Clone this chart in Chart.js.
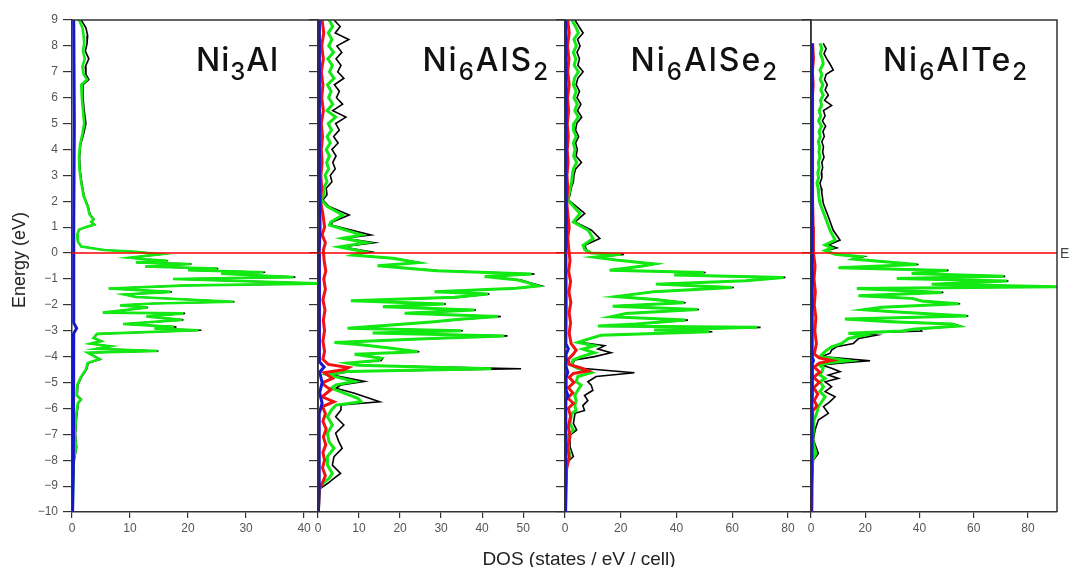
<!DOCTYPE html>
<html>
<head>
<meta charset="utf-8">
<title>DOS Ni3Al / Ni6AlX2</title>
<script src="https://cdn.jsdelivr.net/npm/chart.js@4.4.1/dist/chart.umd.min.js"></script>
<style>
  html, body { margin:0; padding:0; background:#fff; }
  body { position:relative; width:1070px; height:567px; overflow:hidden; font-family:"Liberation Sans", Arial, sans-serif; }
  canvas { position:absolute; top:0; }
  .name { position:absolute; top:44px; font-family:Inter, "Noto Sans", sans-serif; font-size:32px; font-weight:500; line-height:32px; color:#111; white-space:nowrap; letter-spacing:2px; }
  .name sub { font-size:24px; line-height:0; vertical-align:-9px; }
  .axis-title { position:absolute; color:#222; white-space:nowrap; line-height:1; }
</style>
</head>
<body>

<div class="name" style="right:791px; letter-spacing:1px">Ni<sub>3</sub>Al</div>
<div class="name" style="right:520px">Ni<sub>6</sub>AlS<sub>2</sub></div>
<div class="name" style="right:291px">Ni<sub>6</sub>AlSe<sub>2</sub></div>
<div class="name" style="right:41px">Ni<sub>6</sub>AlTe<sub>2</sub></div>

<div class="axis-title" style="left:19px; top:260px; font-size:18px; transform:translate(-50%,-50%) rotate(-90deg);">Energy (eV)</div>
<div class="axis-title" style="left:579px; top:549px; font-size:19px; transform:translateX(-50%);">DOS (states / eV / cell)</div>
<div class="axis-title" style="left:1060px; top:246px; font-size:14px; color:#444;">E<sub style="font-size:9px">F</sub></div>

<script>
// energy axis (shared by the four panels)
const energyTicks = [9, 8, 7, 6, 5, 4, 3, 2, 1, 0, -1, -2, -3, -4, -5, -6, -7, -8, -9, -10];
const fermiLevel = 0;

// DOS axis per panel
const dosMax   = [42.4, 60.2, 88.3, 90.7];
const dosTicks = [[0, 10, 20, 30, 40], [0, 10, 20, 30, 40, 50], [0, 20, 40, 60, 80], [0, 20, 40, 60, 80]];

// ---- Ni3Al ----
const eNi3Al = [
  9.0, 8.7, 8.4, 8.1, 7.8, 7.5, 7.2, 6.9, 6.7, 6.5,
  6.0, 5.5, 5.0, 4.6, 4.2, 3.7, 3.2, 2.7, 2.2, 1.8,
  1.5, 1.3, 1.2, 1.1, 1.0, 0.9, 0.7, 0.45, 0.25, 0.12,
  0.05, -0.05, -0.18, -0.24, -0.3, -0.36, -0.42, -0.52, -0.6, -0.66,
  -0.74, -0.8, -0.93, -1.0, -1.06, -1.18, -1.25, -1.37, -1.5, -1.6,
  -1.7, -1.88, -1.95, -2.02, -2.1, -2.3, -2.33, -2.45, -2.58, -2.74,
  -2.85, -2.92, -2.98, -3.12, -3.28, -3.4, -3.5, -3.6, -3.7, -3.78,
  -3.85, -4.1, -4.25, -4.5, -4.8, -5.1, -5.5, -5.65, -5.8, -6.3,
  -7.0, -7.5, -8.0, -9.0, -10
];
const niNi3Al = [
  1.2, 1.8, 2.0, 2.1, 1.9, 2.2, 1.8, 2.0, 2.6, 1.6,
  1.7, 1.9, 2.1, 1.8, 1.4, 1.2, 1.3, 1.6, 2.0, 2.7,
  3.0, 3.7, 3.3, 3.8, 2.3, 1.2, 0.9, 1.0, 1.6, 5.5,
  11, 15.2, 9.9, 12.5, 16.4, 11, 20.4, 12.6, 25, 20,
  33, 25.7, 38.2, 17.4, 25.7, 44, 20, 6.3, 17, 9,
  11, 27.8, 14, 8.3, 13, 5.3, 19.2, 12.8, 19, 8.8,
  17.6, 14.2, 21.8, 4.3, 3.7, 5.0, 3.2, 6.6, 4.2, 14.7,
  2.7, 4.7, 2.7, 2.4, 1.5, 0.9, 0.8, 1.5, 1.0, 0.7,
  0.5, 0.7, 0.3, 0.2, 0.1
];
const totNi3Al = [
  1.6, 2.4, 2.7, 2.6, 2.3, 2.9, 2.3, 2.4, 2.9, 1.9,
  1.9, 2.1, 2.4, 2.0, 1.5, 1.3, 1.4, 1.7, 2.1, 2.8,
  3.1, 3.8, 3.4, 3.9, 2.4, 1.2, 0.9, 1.0, 1.6, 5.5,
  11, 15.4, 10, 12.6, 16.5, 11.1, 20.6, 12.7, 25.2, 20.1,
  33.3, 25.8, 38.5, 17.5, 25.8, 44, 20, 6.4, 17.2, 9.1,
  11.1, 28, 14.1, 8.4, 13.1, 5.4, 19.5, 12.9, 19.2, 8.9,
  18, 14.3, 22.3, 4.4, 3.8, 5.1, 3.3, 6.7, 4.3, 14.9,
  2.8, 4.9, 2.8, 2.5, 1.6, 1.0, 0.9, 1.6, 1.1, 0.8,
  0.6, 0.8, 0.4, 0.2, 0.1
];
const eAlNi3Al = [9, 5, 1, 0, -1.5, -2.7, -2.9, -3.1, -5.5, -8, -10];
const alNi3Al  = [0.3, 0.4, 0.3, 0.3, 0.3, 0.3, 0.8, 0.3, 0.3, 0.2, 0.1];

// ---- Ni6AlS2 ----
const eNi6AlS2 = [
  9.0, 8.75, 8.5, 8.25, 8.0, 7.75, 7.5, 7.25, 7.0, 6.75,
  6.5, 6.25, 6.0, 5.75, 5.5, 5.25, 5.0, 4.75, 4.5, 4.25,
  4.0, 3.75, 3.5, 3.25, 3.0, 2.75, 2.5, 2.25, 2.05,
  1.8, 1.47, 1.2, 1.08, 0.7, 0.57, 0.4, 0.24, 0.05, -0.08,
  -0.2, -0.37, -0.49, -0.68, -0.81, -0.91, -1.04, -1.14, -1.27, -1.36,
  -1.49, -1.58, -1.71, -1.84, -1.97, -2.07, -2.2, -2.32, -2.45, -2.56,
  -2.66, -2.9, -3.0, -3.09, -3.2, -3.3, -3.45, -3.54, -3.67, -3.81,
  -3.91, -4.06, -4.15, -4.25, -4.33, -4.47, -4.57, -4.7, -4.83, -4.96,
  -5.09, -5.22, -5.41, -5.61, -5.74, -5.87, -6.06, -6.32, -6.64, -6.96,
  -7.29, -7.54, -7.86, -8.19, -8.51, -8.7, -8.9, -9.1, -10
];
const niNi6AlS2 = [
  2.7, 3.6, 2.5, 3.4, 2.6, 3.8, 2.4, 3.5, 2.8, 3.9,
  2.3, 3.2, 2.6, 3.6, 2.2, 4.3, 2.5, 3.3, 2.2, 3.0,
  2.0, 2.8, 2.1, 2.6, 1.7, 2.2, 1.3, 1.5, 0.8,
  2.3, 6.0, 3.1, 2.8, 10.5, 6.0, 11.7, 5.2, 11.3, 8.5,
  18.2, 24.3, 14.5, 28.8, 52, 40.6, 48.7, 51.1, 53.6, 48.3,
  28.4, 41.4, 33.3, 8.0, 30.8, 15.8, 38.1, 21.1, 43.8, 34.5,
  27.6, 7.2, 34.9, 13.3, 45.4, 27.6, 4.0, 10.5, 17.4, 24.3,
  8.9, 15.4, 14.6, 7.2, 9.7, 42.2, 7.2, 2.4, 5.6, 8.9,
  4.4, 3.2, 6.4, 9.7, 10.5, 4.4, 3.3, 2.3, 3.5, 2.3,
  2.7, 3.9, 2.3, 2.3, 3.5, 2.7, 1.1, 0.3, 0.1
];
const totNi6AlS2 = [
  3.9, 5.4, 4.2, 7.5, 4.6, 5.8, 4.4, 5.6, 4.8, 6.3,
  4.0, 5.2, 4.5, 6.0, 3.6, 6.8, 4.3, 5.2, 3.8, 4.9,
  3.4, 4.4, 3.6, 4.2, 3.0, 3.4, 2.0, 2.2, 1.2,
  2.7, 7.6, 3.5, 3.2, 12.9, 6.4, 13.7, 5.6, 12.9, 8.8,
  18.6, 24.7, 14.7, 29.2, 52.8, 40.9, 49.5, 51.5, 54.4, 48.6,
  28.8, 41.8, 34.1, 8.2, 31.2, 16.1, 38.5, 21.4, 44.6, 34.8,
  28.0, 7.5, 35.3, 13.6, 46.2, 28.4, 4.3, 10.9, 17.8, 24.7,
  9.3, 15.8, 15.4, 7.6, 10.2, 49.5, 8.0, 3.2, 7.2, 11.3,
  5.6, 4.4, 8.9, 12.5, 15.0, 5.6, 5.6, 4.3, 6.3, 4.3,
  5.1, 5.9, 3.9, 3.5, 5.5, 3.9, 2.3, 0.5, 0.1
];
const eSNi6AlS2 = [
  9, 8.5, 8, 7.5, 7, 6.5, 6, 5.5, 5, 4.5,
  4, 3.5, 3, 2.5, 2, 1.5, 1.0, 0.7, 0.4, 0.1,
  -0.3, -0.7, -1.0, -1.4, -1.8, -2.2, -2.6, -3.0, -3.4, -3.8,
  -4.1, -4.3, -4.42, -4.5, -4.62, -4.84, -5.0, -5.1, -5.28, -5.55,
  -5.74, -5.93, -6.2, -6.5, -6.8, -7.1, -7.4, -7.7, -8.0, -8.3,
  -8.6, -8.9, -9.1, -10
];
const sNi6AlS2 = [
  1.0, 1.4, 0.9, 1.3, 0.8, 1.2, 0.9, 1.3, 0.8, 1.1,
  0.8, 1.0, 0.7, 0.9, 0.6, 1.2, 1.6, 1.0, 1.8, 1.3,
  1.5, 1.9, 1.4, 1.8, 1.2, 1.7, 1.3, 1.6, 1.2, 1.6,
  1.2, 2.5, 7.5, 6.5, 1.5, 3.5, 1.2, 1.5, 3.1, 1.0,
  3.9, 1.1, 1.8, 1.2, 2.0, 1.3, 1.9, 1.2, 1.6, 1.1,
  1.8, 1.0, 0.3, 0.1
];
const eAlNi6AlS2 = [9, 6, 3, 1, 0, -2, -4.2, -4.4, -4.6, -5.0, -5.4, -5.8, -6.2, -9, -10];
const alNi6AlS2  = [0.3, 0.4, 0.3, 0.5, 0.3, 0.4, 0.3, 1.5, 0.4, 1.0, 0.4, 1.0, 0.3, 0.3, 0.1];

// ---- Ni6AlSe2 ----
const eNi6AlSe2 = [
  9.0, 8.75, 8.5, 8.25, 8.0, 7.75, 7.5, 7.25, 7.0, 6.75,
  6.5, 6.25, 6.0, 5.75, 5.5, 5.25, 5.0, 4.75, 4.5, 4.25,
  4.0, 3.75, 3.5, 3.25, 3.0, 2.75, 2.5, 2.25, 2.05,
  1.53, 1.2, 0.88, 0.56, 0.3, 0.13, 0.0,
  -0.05, -0.16, -0.27, -0.42, -0.5, -0.66, -0.75, -0.85, -0.94, -1.07,
  -1.2, -1.33, -1.49, -1.68, -1.79, -1.92, -2.05, -2.18, -2.33, -2.46,
  -2.59, -2.74, -2.82, -2.87, -2.97, -3.04, -3.17, -3.36, -3.45, -3.58,
  -3.71, -3.85, -4.0, -4.13, -4.32, -4.45, -4.62, -4.77, -4.97, -5.1,
  -5.3, -5.5, -5.7, -5.89, -6.08, -6.19, -6.58, -6.83, -7.03, -7.48,
  -7.86, -8.06, -8.6, -10
];
const niNi6AlSe2 = [
  2.4, 3.8, 4.8, 3.2, 4.1, 3.0, 3.9, 3.3, 4.8, 3.4,
  3.0, 4.0, 3.2, 4.4, 3.5, 4.8, 3.2, 3.0, 4.0, 3.0,
  3.6, 3.1, 4.2, 3.0, 2.6, 2.4, 1.8, 1.4, 0.95,
  5.4, 3.0, 8.3, 10.1, 6.5, 7.1, 9.4,
  20.1, 10.6, 18.3, 32, 27.9, 16, 49.9, 39.2, 78.5, 64.8,
  32.6, 60, 32, 18.3, 32, 42.7, 17.1, 47.5, 21.9, 16.5,
  43.3, 25.5, 11.8, 69, 32, 51.7, 13, 7.0, 4.6, 10.6,
  6.4, 10.6, 5.8, 2.9, 2.3, 4.6, 9.4, 4.6, 4.0, 5.8,
  4.6, 3.5, 4.0, 3.5, 4.0, 2.4, 1.8, 3.0, 1.2, 1.2,
  1.8, 0.6, 0.4, 0.1
];
const totNi6AlSe2 = [
  3.6, 5.0, 6.5, 4.5, 5.4, 4.3, 5.2, 4.6, 6.5, 4.6,
  4.0, 5.2, 4.3, 5.7, 4.5, 6.0, 4.2, 3.8, 4.9, 3.8,
  4.4, 4.0, 5.9, 3.8, 3.2, 3.0, 2.2, 1.8, 1.2,
  7.1, 3.6, 9.5, 12.5, 7.1, 7.7, 9.6,
  21.2, 10.8, 18.9, 32.6, 28.1, 16.2, 50.5, 39.4, 79.1, 65.4,
  32.8, 60.6, 32.2, 18.5, 32.6, 43.3, 17.3, 48.1, 22.1, 16.7,
  44.1, 26.1, 12, 70.2, 32.2, 52.9, 13.2, 7.6, 5.2, 14.2,
  11.8, 16.5, 10.6, 3.5, 2.5, 5.8, 24.9, 11.2, 8.2, 9.4,
  10.0, 7.0, 8.2, 6.4, 7.0, 3.6, 3.0, 4.2, 1.8, 1.8,
  3.0, 1.0, 0.6, 0.1
];
const eSeNi6AlSe2 = [
  9, 8.5, 8, 7.5, 7, 6.5, 6, 5.5, 5, 4.5,
  4, 3.5, 3, 2.5, 2, 1.5, 1.0, 0.6, 0.2, -0.3,
  -0.7, -1.1, -1.5, -1.9, -2.3, -2.7, -3.1, -3.5, -3.75, -3.9,
  -4.1, -4.3, -4.45, -4.55, -4.65, -4.8, -5.0, -5.2, -5.4, -5.6,
  -5.8, -6.0, -6.3, -6.7, -7.1, -7.5, -7.9, -8.3, -9, -10
];
const seNi6AlSe2 = [
  1.0, 1.5, 0.9, 1.4, 1.0, 1.5, 0.9, 1.3, 0.8, 1.2,
  0.8, 1.1, 0.7, 1.0, 0.6, 1.0, 1.5, 1.0, 1.3, 1.8,
  1.3, 2.0, 1.4, 2.1, 1.5, 2.0, 1.5, 2.2, 4.0, 3.0,
  1.2, 1.5, 6.0, 8.3, 3.0, 1.5, 3.2, 1.2, 2.8, 1.0,
  3.0, 1.2, 2.0, 1.2, 1.8, 1.0, 1.5, 0.6, 0.4, 0.2
];
const eAlNi6AlSe2 = [9, 6, 3, 1, 0, -2, -3.5, -3.7, -3.9, -4.4, -4.6, -4.8, -5.3, -5.5, -5.7, -6.5, -10];
const alNi6AlSe2  = [0.3, 0.4, 0.3, 0.5, 0.3, 0.4, 0.3, 1.2, 0.4, 0.4, 1.0, 0.4, 0.4, 1.0, 0.3, 0.3, 0.1];

// ---- Ni6AlTe2 ----
const eNi6AlTe2 = [
  8.1, 7.9, 7.7, 7.5, 7.3, 7.07, 6.9, 6.7, 6.5, 6.3,
  6.1, 5.9, 5.7, 5.5, 5.3, 5.1, 4.9, 4.7, 4.5, 4.3,
  4.1, 3.9, 3.7, 3.5, 3.3, 3.1, 2.9, 2.7, 2.5, 2.3,
  2.1, 1.92,
  1.4, 0.88, 0.5, 0.31, 0.2,
  0.1, -0.05, -0.14, -0.23, -0.44, -0.57, -0.67, -0.79, -0.9, -0.98,
  -1.08, -1.2, -1.3, -1.37, -1.52, -1.65, -1.75, -1.85, -1.96, -2.09,
  -2.19, -2.27, -2.43, -2.55, -2.65, -2.74, -2.82, -2.93, -3.01, -3.1,
  -3.17, -3.3, -3.49, -3.62, -3.75, -3.87, -4.0, -4.16, -4.23, -4.32,
  -4.45, -4.58, -4.71, -4.84, -4.97, -5.16, -5.35, -5.55, -5.74, -5.93,
  -6.19, -6.45, -6.83, -7.22, -7.74, -7.99, -9.0, -10
];
const niNi6AlTe2 = [
  3.3, 4.0, 3.4, 4.2, 4.5, 3.3, 4.0, 3.4, 4.4, 3.6,
  4.5, 3.5, 3.9, 3.0, 3.6, 2.8, 3.9, 3.0, 3.4, 2.7,
  3.2, 2.9, 3.3, 2.7, 3.0, 2.5, 2.8, 2.2, 2.6, 2.8,
  3.0, 3.3,
  5.2, 7.0, 8.9, 5.2, 7.6,
  5.2, 8.9, 18.1, 15.6, 39, 10.1, 50.1, 37.1, 71, 31.6,
  72.2, 44.5, 90.6, 16.9, 48.2, 17.5, 37.1, 40.8, 54.4, 26.1,
  19.3, 30.4, 57.4, 12.5, 29.2, 51.9, 54.4, 38.4, 33.5, 13.8,
  19.9, 13.8, 11.3, 7.6, 5.8, 4.5, 3.3, 13.8, 7.6, 3.0,
  4.5, 4.0, 3.3, 5.2, 3.3, 4.6, 3.3, 5.2, 4.0, 2.7,
  2.1, 1.1, 0.9, 0.6, 1.8, 0.5, 0.2, 0.1
];
const totNi6AlTe2 = [
  4.5, 5.6, 4.8, 5.8, 7.0, 8.2, 5.6, 5.0, 6.0, 5.2,
  6.4, 5.0, 7.6, 4.6, 5.2, 4.2, 5.4, 4.4, 4.9, 4.0,
  4.6, 4.3, 4.8, 4.0, 4.3, 3.8, 4.0, 3.3, 3.8, 4.0,
  4.3, 4.5,
  6.4, 8.2, 10.7, 6.4, 9.5,
  5.8, 9.2, 19.3, 15.9, 39.6, 10.4, 50.7, 37.7, 71.6, 31.9,
  72.8, 44.8, 91.2, 17.2, 48.8, 17.8, 37.4, 41.2, 55.0, 26.4,
  19.6, 30.7, 58.0, 12.8, 29.8, 52.5, 55.0, 40.2, 40.8, 14.4,
  24.2, 17.6, 15.6, 9.4, 7.6, 7.0, 3.9, 21.8, 12.5, 3.9,
  7.6, 10.7, 6.4, 10.1, 5.2, 7.6, 5.2, 8.9, 7.0, 4.6,
  6.4, 2.7, 1.5, 0.9, 2.7, 0.9, 0.3, 0.1
];
const eTeNi6AlTe2 = [
  8.1, 7.5, 7, 6.5, 6, 5.5, 5, 4, 3, 2,
  1, 0.5, 0, -0.5, -1, -1.5, -2, -2.5, -3, -3.5,
  -3.9, -4.05, -4.15, -4.25, -4.4, -4.6, -4.8, -5.0, -5.2, -5.45,
  -5.7, -5.9, -6.1, -6.5, -7, -8, -10
];
const teNi6AlTe2 = [
  0.6, 0.9, 0.5, 0.8, 0.5, 0.7, 0.6, 0.6, 0.5, 0.5,
  0.8, 1.0, 0.8, 1.5, 1.1, 1.6, 1.2, 1.8, 1.4, 2.0,
  1.2, 3.0, 7.6, 3.0, 1.2, 3.2, 1.0, 3.0, 1.0, 2.5,
  1.2, 2.2, 0.6, 0.7, 0.4, 0.4, 0.3
];
const eAlNi6AlTe2 = [8.1, 5, 2, 0, -2, -4.0, -4.15, -4.3, -5.5, -6, -10];
const alNi6AlTe2  = [0.4, 0.5, 0.4, 0.4, 0.5, 0.4, 0.9, 0.4, 0.5, 0.3, 0.1];

// panel placement (chart area edges in page pixels)
const panelLeft  = [72, 318, 565, 811];
const panelRight = [318, 565, 811, 1057];
const yAxisWidth = 72;

const COLORS = { tot:'#000000', ni:'#12e812', x:'#f21212', al:'#1616cc' };

// energy/DOS pairs -> points, DOS on x and energy on y
const toPoints = (energies, dos) => energies.map((e, k) => ({ x: dos[k], y: e }));

const panels = [
  { tot: toPoints(eNi3Al, totNi3Al), ni: toPoints(eNi3Al, niNi3Al), x: null,
    al: toPoints(eAlNi3Al, alNi3Al), xLabel: null },
  { tot: toPoints(eNi6AlS2, totNi6AlS2), ni: toPoints(eNi6AlS2, niNi6AlS2), x: toPoints(eSNi6AlS2, sNi6AlS2),
    al: toPoints(eAlNi6AlS2, alNi6AlS2), xLabel: 'S' },
  { tot: toPoints(eNi6AlSe2, totNi6AlSe2), ni: toPoints(eNi6AlSe2, niNi6AlSe2), x: toPoints(eSeNi6AlSe2, seNi6AlSe2),
    al: toPoints(eAlNi6AlSe2, alNi6AlSe2), xLabel: 'Se' },
  { tot: toPoints(eNi6AlTe2, totNi6AlTe2), ni: toPoints(eNi6AlTe2, niNi6AlTe2), x: toPoints(eTeNi6AlTe2, teNi6AlTe2),
    al: toPoints(eAlNi6AlTe2, alNi6AlTe2), xLabel: 'Te' }
];

// red line at the Fermi level
const fermiLine = {
  id: 'fermiLine',
  afterDatasetsDraw(chart) {
    const { ctx, chartArea, scales } = chart;
    const py = scales.y.getPixelForValue(fermiLevel);
    ctx.save();
    ctx.strokeStyle = '#ff0000';
    ctx.lineWidth = 1.5;
    ctx.beginPath();
    ctx.moveTo(chartArea.left, py);
    ctx.lineTo(chartArea.right, py);
    ctx.stroke();
    ctx.restore();
  }
};

// top and right edges of each panel box
const frame = {
  id: 'frame',
  afterDraw(chart) {
    const { ctx, chartArea: a } = chart;
    ctx.save();
    ctx.strokeStyle = '#333';
    ctx.lineWidth = 1.5;
    ctx.beginPath();
    ctx.moveTo(a.left, a.top);
    ctx.lineTo(a.right, a.top);
    ctx.lineTo(a.right, a.bottom);
    ctx.stroke();
    ctx.restore();
  }
};

function line(label, data, color, width) {
  return { label, data, borderColor: color, backgroundColor: color, borderWidth: width,
           showLine: true, pointRadius: 0, tension: 0, fill: false };
}

panels.forEach((p, i) => {
  const w = panelRight[i] - panelLeft[i];
  const canvas = document.createElement('canvas');
  canvas.width = yAxisWidth + w + 13;
  canvas.height = 567;
  canvas.style.left = (panelLeft[i] - yAxisWidth) + 'px';
  canvas.style.width = canvas.width + 'px';
  canvas.style.height = '567px';
  document.body.insertBefore(canvas, document.body.firstChild);

  // first dataset is painted last (on top)
  const datasets = [line('Al', p.al, COLORS.al, 3)];
  if (p.x) datasets.push(line(p.xLabel, p.x, COLORS.x, 3));
  datasets.push(line('Ni', p.ni, COLORS.ni, i === 0 ? 2.6 : 3));
  datasets.push(line('Total', p.tot, COLORS.tot, 1.6));

  new Chart(canvas.getContext('2d'), {
    type: 'scatter',
    data: { datasets },
    options: {
      responsive: false,
      animation: false,
      devicePixelRatio: 1,
      layout: { padding: { top: 20, right: 13, bottom: 0, left: 0 } },
      plugins: { legend: { display: false }, tooltip: { enabled: false } },
      scales: {
        x: {
          type: 'linear', min: 0, max: dosMax[i],
          afterBuildTicks: s => { s.ticks = dosTicks[i].map(v => ({ value: v })); },
          afterFit: s => { s.height = 55; },
          grid: { drawOnChartArea: false, tickLength: 6, color: '#333', lineWidth: 1.2 },
          border: { color: '#333', width: 1.5 },
          ticks: { color: '#555', font: { family: 'Liberation Sans', size: 12 }, padding: 3,
                   maxRotation: 0, autoSkip: false }
        },
        y: {
          type: 'linear', min: -10, max: 9,
          afterBuildTicks: s => { s.ticks = energyTicks.map(v => ({ value: v })); },
          afterFit: s => { s.width = yAxisWidth; },
          grid: { drawOnChartArea: false, tickLength: 9, color: '#333', lineWidth: 1.2 },
          border: { color: '#333', width: 1.5 },
          ticks: { display: i === 0, color: '#555', font: { family: 'Liberation Sans', size: 12 },
                   padding: 5, autoSkip: false,
                   callback: v => v < 0 ? '\u2212' + Math.abs(v) : String(v) }
        }
      }
    },
    plugins: [fermiLine, frame]
  });
});
</script>
</body>
</html>
